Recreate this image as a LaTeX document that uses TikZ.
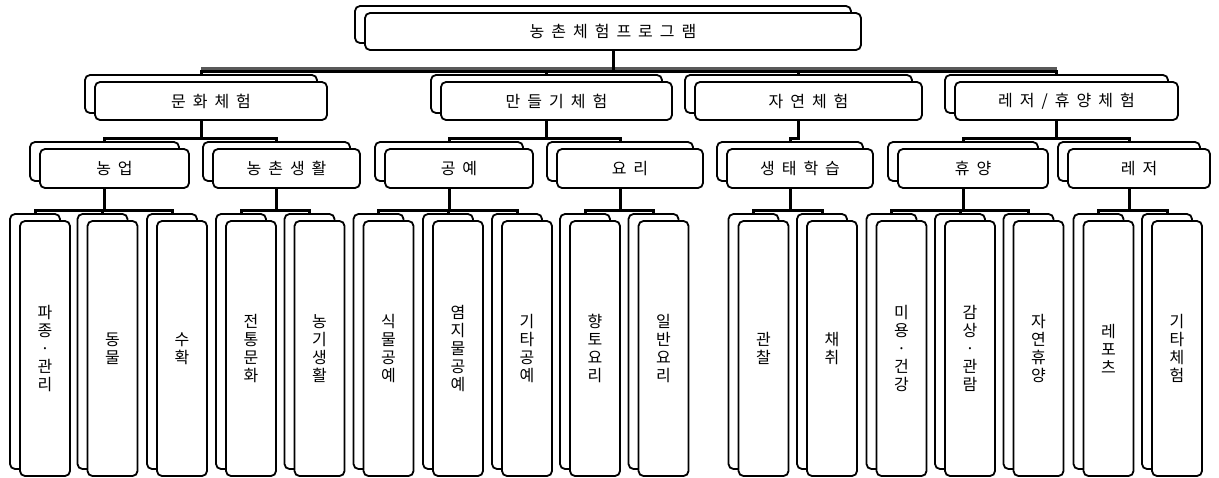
\documentclass[tikz,border=0pt]{standalone}
\usepackage{fontspec}
\setmainfont{Noto Sans CJK KR}
\pgfdeclarelayer{bg}
\pgfsetlayers{bg,main}
\ExplSyntaxOn
\cs_generate_variant:Nn \seq_set_split:Nnn {NnV}
\NewDocumentCommand\hsp{m}{\tl_set:Nx \l_tmpa_tl {#1}\seq_set_split:NnV \l_tmpa_seq {} \l_tmpa_tl \seq_use:Nn \l_tmpa_seq {\hspace{7pt}}}
\NewDocumentCommand\vsp{m}{\tl_set:Nx \l_tmpa_tl {#1}\seq_set_split:NnV \l_tmpa_seq {} \l_tmpa_tl \seq_use:Nn \l_tmpa_seq {\\}}
\ExplSyntaxOff
\tikzset{
  box/.style={draw=black, line width=1.8pt, rounded corners=5pt, fill=white, inner sep=0pt},
  hbox/.style={box, font=\fontsize{16}{18}\selectfont},
  leafbox/.style={box, align=center, font=\fontsize{16}{18}\selectfont},
  conn/.style={line width=3pt, draw=black},
  band/.style={line width=3pt, draw=black!65},
}
% name, cx, cy, w, h, style, text
\newcommand\dbox[7]{%
  \node[#6, minimum width=#4pt, minimum height=#5pt] (#1b) at (#2-10,#3-7) {};
  \node[#6, minimum width=#4pt, minimum height=#5pt] (#1) at (#2,#3) {#7};
}
\begin{document}
\begin{tikzpicture}[x=1pt,y=-1pt]
\useasboundingbox (0,0) rectangle (1219,477);
% top
\dbox{top}{613}{31.5}{496}{37}{hbox}{\hsp{농촌체험프로그램}}
% level 1
\dbox{m1}{211}{101}{232}{38}{hbox}{\hsp{문화체험}}
\dbox{m2}{556.5}{101}{231}{38}{hbox}{\hsp{만들기체험}}
\dbox{m3}{808.5}{101}{227}{38}{hbox}{\hsp{자연체험}}
\dbox{m4}{1066.5}{101}{223}{38}{hbox}{\hsp{레저/휴양체험}}
% level 2
\dbox{s1}{114.5}{168.5}{149}{39}{hbox}{\hsp{농업}}
\dbox{s2}{286.5}{168.5}{147}{39}{hbox}{\hsp{농촌생활}}
\dbox{s3}{459}{168.5}{148}{39}{hbox}{\hsp{공예}}
\dbox{s4}{630}{168.5}{146}{39}{hbox}{\hsp{요리}}
\dbox{s5}{800}{168.5}{146}{39}{hbox}{\hsp{생태학습}}
\dbox{s6}{973}{168.5}{150}{39}{hbox}{\hsp{휴양}}
\dbox{s7}{1139}{168.5}{142}{39}{hbox}{\hsp{레저}}
% leaves
\foreach \n/\x/\t in {
  l1/45/파종·관리, l2/112.5/동물, l3/182/수확,
  l4/251/전통문화, l5/319.5/농기생활,
  l6/388.5/식물공예, l7/458/염지물공예, l8/527/기타공예,
  l9/595/향토요리, l10/663.5/일반요리,
  l11/763.5/관찰, l12/832/채취,
  l13/901.5/미용·건강, l14/970/감상·관람, l15/1038.5/자연휴양,
  l16/1108.5/레포츠, l17/1177/기타체험}{
  \dbox{\n}{\x}{348.5}{50}{255}{leafbox}{\vsp{\t}}
}
\begin{pgfonlayer}{bg}
  \path (m1b.north) ++(0,-6) coordinate (g1);
  \path (m4b.north) ++(0,-6) coordinate (g2);
  \draw[band] (g1) -- (g2);
  \foreach \c in {m1b,m2b,m3b,m4b}
    \draw[conn] (top.south) -- ++(0,21) -| (\c.north);
  \foreach \p/\c in {m1b/s1b, m1b/s2b, m2b/s3b, m2b/s4b, m3b/s5b, m4b/s6b, m4b/s7b}
    \draw[conn] (\p.south) -- ++(0,25) -| (\c.north);
  \foreach \p/\c in {s1b/l1b, s1b/l2b, s1b/l3b, s2b/l4b, s2b/l5b,
                     s3b/l6b, s3b/l7b, s3b/l8b, s4b/l9b, s4b/l10b,
                     s5b/l11b, s5b/l12b, s6b/l13b, s6b/l14b, s6b/l15b,
                     s7b/l16b, s7b/l17b}
    \draw[conn] (\p.south) -- ++(0,29) -| (\c.north);
\end{pgfonlayer}
\end{tikzpicture}
\end{document}
